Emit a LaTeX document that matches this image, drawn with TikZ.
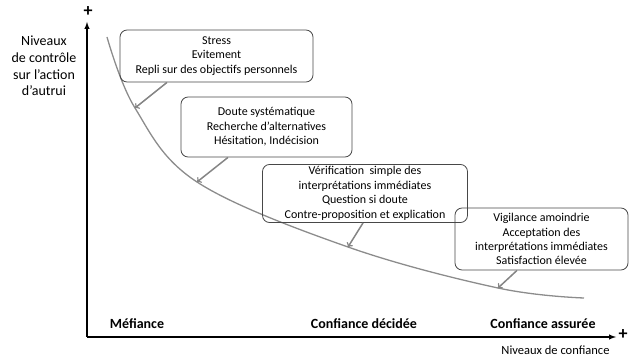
\documentclass[tikz,border=0pt]{standalone}
\usepackage{fontspec}
\setmainfont{Carlito}
\begin{document}
\begin{tikzpicture}[x=1pt,y=-1pt,stage/.style={draw=black!72,line width=0.8pt,rounded corners=2.5mm,align=center,font=\fontsize{12}{14.5}\selectfont,inner sep=2pt},level/.style={font=\fontsize{14}{16}\selectfont\bfseries},axislabel/.style={align=center,font=\fontsize{14}{16.8}\selectfont},axis/.style={black,line width=1.4pt,-latex},sign/.style={font=\fontsize{18}{19}\selectfont\bfseries,inner sep=0pt},trend/.style={black!45,line width=1.3pt},pointer/.style={black!48,line width=1.5pt,->}]
\useasboundingbox (0,0) rectangle (630,358);
\def\orgX{87}
\def\orgY{337}

% axes
\coordinate (origin) at (\orgX,\orgY);
\coordinate (ytop) at (\orgX,22);
\coordinate (xend) at (616,\orgY);
\draw[axis] (origin) -- (ytop);
\draw[axis] (origin) -- (xend);
\node[sign] (yplus) at (88,12) {+};
\node[sign] (xplus) at (623,335) {+};
\node[axislabel] (ylab) at (44,66) {Niveaux\\de contrôle\\sur l'action\\d'autrui};
\node[font=\fontsize{12.5}{14}\selectfont,anchor=east] (xlab) at (613,350) {Niveaux de confiance};

% trust levels
\node[level] (mef) at (137,324) {Méfiance};
\node[level] (dec) at (364,324) {Confiance décidée};
\node[level] (ass) at (543,324) {Confiance assurée};

% curve
\coordinate (c0) at (107,37);
\coordinate (c1) at (135,108);
\coordinate (c2) at (197,182);
\coordinate (c3) at (348,247);
\coordinate (c4) at (498,288);
\coordinate (c5) at (584,298);
\draw[trend] plot[smooth,tension=0.6] coordinates {(c0) (c1) (c2) (c3) (c4) (c5)};

% stages
\node[stage,minimum width=193pt,minimum height=52pt] (st1) at (216.5,56) {Stress\\Evitement\\Repli sur des objectifs personnels};
\node[stage,minimum width=171pt,minimum height=60pt] (st2) at (266.5,127) {Doute systématique\\Recherche d'alternatives\\Hésitation, Indécision};
\node[stage,minimum width=205pt,minimum height=57pt,font=\fontsize{12}{14.6}\selectfont] (st3) at (365,193.5) {Vérification\ \ simple des\\interprétations immédiates\\Question si doute\\Contre-proposition et explication};
\node[stage,minimum width=173pt,minimum height=62pt,font=\fontsize{12}{14.2}\selectfont] (st4) at (541.5,239) {Vigilance amoindrie\\Acceptation des\\interprétations immédiates\\Satisfaction élevée};

\draw[pointer] ([xshift=-49.5pt]st1.south) -- (c1);
\draw[pointer] ([xshift=-38.5pt]st2.south) -- (c2);
\draw[pointer] ([xshift=-2pt]st3.south) -- (c3);
\draw[pointer] ([xshift=-24.5pt]st4.south) -- (c4);
\end{tikzpicture}
\end{document}
